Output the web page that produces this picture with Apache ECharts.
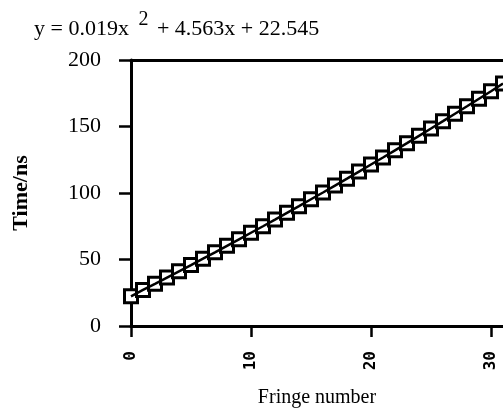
<!DOCTYPE html>
<html>
<head>
<meta charset="utf-8">
<script src="https://cdn.jsdelivr.net/npm/echarts@6/dist/echarts.min.js"></script>
<style>
html,body{margin:0;padding:0;background:#fff;}
#chart{width:503px;height:409px;}
</style>
</head>
<body>
<div id="chart"></div>
<script>
// Fringe numbers (x) and measured times (y, ns)
var fringeNumbers = [0,1,2,3,4,5,6,7,8,9,10,11,12,13,14,15,16,17,18,19,20,21,22,23,24,25,26,27,28,29,30,31];
var timesNs = [22.3,27.1,31.7,36.4,41.1,45.8,50.6,55.4,60.3,65.2,70.1,75.0,80.0,85.1,90.1,95.3,100.4,105.6,110.8,116.1,121.4,126.7,132.1,137.5,143.0,148.5,154.0,159.6,165.2,170.9,176.5,182.3];
var xTicks = [0,10,20,30];
var yTicks = [0,50,100,150,200];
var equationParts = ['y = 0.019x ', '2', ' + 4.563x + 22.545'];

var points = fringeNumbers.map(function(x,i){ return [x, timesNs[i]]; });

var chart = echarts.init(document.getElementById('chart'), null, {renderer:'canvas'});
var serif = '"Liberation Serif","Times New Roman",serif';
chart.setOption({
  animation:false,
  backgroundColor:'#fff',
  title:{
    left:34, top:10, padding:0,
    text:'{a|'+equationParts[0]+'}{s|'+equationParts[1]+'}{a|'+equationParts[2]+'}',
    textStyle:{
      fontWeight:'normal',
      rich:{
        a:{fontFamily:serif, fontSize:22, fontWeight:'normal', color:'#000', verticalAlign:'bottom', lineHeight:30},
        s:{fontFamily:serif, fontSize:20, fontWeight:'normal', color:'#000', verticalAlign:'bottom', lineHeight:30, padding:[0,3,10,4]}
      }
    }
  },
  grid:{left:131, top:60, right:0, bottom:83, containLabel:false, outerBoundsMode:'none'},
  xAxis:[{
    type:'value', min:0, max:31, interval:10,
    name:'Fringe number', nameLocation:'middle', nameGap:62,
    nameTextStyle:{fontFamily:serif, fontSize:20, color:'#000'},
    axisLine:{show:true, onZero:false, lineStyle:{color:'#000', width:3}},
    axisTick:{show:true, inside:false, length:11, lineStyle:{color:'#000', width:2.5},
      customValues:xTicks},
    axisLabel:{rotate:90, margin:25, fontFamily:'"DejaVu Sans Mono",monospace', fontWeight:'bold', fontSize:16, color:'#000',
      customValues:xTicks},
    splitLine:{show:false}
  },{
    type:'value', position:'top', min:0, max:31,
    axisLine:{show:true, onZero:false, lineStyle:{color:'#000', width:3}},
    axisTick:{show:false}, axisLabel:{show:false}, splitLine:{show:false}
  }],
  yAxis:{
    type:'value', min:0, max:200, interval:50,
    name:'Time/ns', nameLocation:'middle', nameGap:99, nameRotate:90,
    nameTextStyle:{fontFamily:serif, fontSize:22, fontWeight:'bold', color:'#000'},
    axisLine:{show:true, onZero:false, lineStyle:{color:'#000', width:3}},
    axisTick:{show:true, inside:false, length:12, lineStyle:{color:'#000', width:2.5}},
    axisLabel:{margin:30, fontFamily:serif, fontSize:22, color:'#000', customValues:yTicks},
    splitLine:{show:false}
  },
  series:[{
    type:'scatter', data:points, symbol:'rect', symbolSize:13,
    itemStyle:{color:'#fff', borderColor:'#000', borderWidth:3, opacity:1},
    z:3, clip:false
  },{
    type:'line', data:points, showSymbol:false, symbol:'none',
    lineStyle:{color:'#000', width:2.5}, z:4, clip:false
  }]
});
</script>
</body>
</html>
